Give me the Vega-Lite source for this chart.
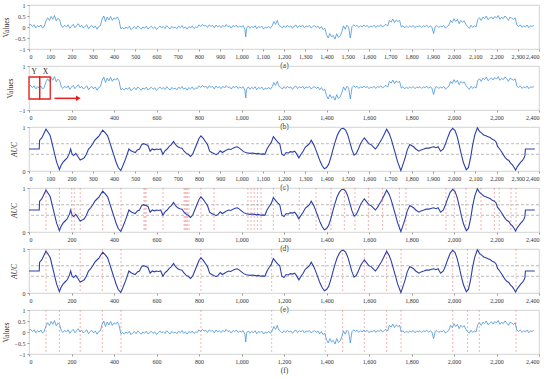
{
  "$schema": "https://vega.github.io/schema/vega-lite/v6.json",
  "padding": {"top": 1, "left": 1, "right": 5, "bottom": 3},
  "spacing": 17,
  "bounds": "flush",
  "config": {
    "view": {"stroke": "#c8c8c8", "strokeWidth": 0.8},
    "axis": {"labelFont": "Liberation Serif", "titleFont": "Liberation Serif", "labelFontSize": 6, "titleFontSize": 7.5, "titleFontWeight": "normal", "labelColor": "#333", "titleColor": "#333", "domain": false, "tickColor": "#999", "tickSize": 2, "grid": false, "labelPadding": 2, "titlePadding": 2, "labelOverlap": false},
    "axisY": {"titlePadding": 4}
  },
  "datasets": {
    "sig": [
      {"t":0,"v":0.08},{"t":8,"v":0.12},{"t":16,"v":0.02},{"t":24,"v":0.1},{"t":32,"v":-0.04},{"t":40,"v":0.06},{"t":48,"v":0.0},{"t":56,"v":0.09},{"t":64,"v":-0.05},{"t":72,"v":0.04},
      {"t":80,"v":0.28},{"t":88,"v":0.42},{"t":96,"v":0.3},{"t":104,"v":0.48},{"t":112,"v":0.35},{"t":120,"v":0.52},{"t":128,"v":0.28},{"t":136,"v":0.4},{"t":144,"v":0.34},
      {"t":152,"v":0.05},{"t":160,"v":-0.02},{"t":168,"v":0.08},{"t":176,"v":0.0},{"t":184,"v":0.1},{"t":192,"v":-0.06},{"t":200,"v":0.04},{"t":208,"v":0.12},{"t":216,"v":-0.03},{"t":224,"v":0.06},{"t":232,"v":0.15},{"t":240,"v":0.0},{"t":248,"v":0.08},{"t":256,"v":-0.05},{"t":264,"v":0.03},{"t":272,"v":0.1},{"t":280,"v":-0.08},{"t":288,"v":0.02},{"t":296,"v":0.07},{"t":304,"v":-0.04},{"t":312,"v":0.05},{"t":320,"v":-0.1},{"t":328,"v":0.02},{"t":336,"v":0.06},
      {"t":344,"v":0.35},{"t":352,"v":0.5},{"t":360,"v":0.25},{"t":368,"v":0.45},{"t":376,"v":0.32},{"t":384,"v":0.48},{"t":392,"v":0.3},{"t":400,"v":0.42},{"t":408,"v":0.36},{"t":416,"v":0.46},{"t":424,"v":0.3},
      {"t":432,"v":-0.08},{"t":440,"v":-0.02},{"t":448,"v":-0.1},{"t":456,"v":0.0},{"t":464,"v":-0.06},{"t":472,"v":0.03},{"t":480,"v":-0.12},{"t":488,"v":-0.04},{"t":496,"v":0.02},{"t":504,"v":-0.08},{"t":512,"v":0.05},{"t":520,"v":-0.03},{"t":528,"v":-0.1},{"t":536,"v":0.0},{"t":544,"v":-0.05},{"t":552,"v":0.04},{"t":560,"v":-0.09},{"t":568,"v":-0.02},{"t":576,"v":0.03},{"t":584,"v":-0.06},{"t":592,"v":0.01},{"t":600,"v":-0.11},{"t":608,"v":-0.03},{"t":616,"v":0.05},{"t":624,"v":-0.04},{"t":632,"v":0.02},{"t":640,"v":-0.07},{"t":648,"v":0.06},{"t":656,"v":-0.02},{"t":664,"v":-0.09},{"t":672,"v":0.03},{"t":680,"v":-0.05},{"t":688,"v":0.0},{"t":696,"v":-0.08},{"t":704,"v":0.04},{"t":712,"v":-0.03},{"t":720,"v":0.07},{"t":728,"v":-0.06},{"t":736,"v":0.01},{"t":744,"v":-0.1},{"t":752,"v":0.02},{"t":760,"v":-0.04},{"t":768,"v":0.05},{"t":776,"v":-0.07},{"t":784,"v":0.0},{"t":792,"v":-0.02},
      {"t":800,"v":0.1},{"t":808,"v":0.02},{"t":816,"v":0.12},{"t":824,"v":0.04},{"t":832,"v":0.08},{"t":840,"v":-0.02},{"t":848,"v":0.1},{"t":856,"v":0.03},{"t":864,"v":0.07},{"t":872,"v":-0.04},{"t":880,"v":0.09},{"t":888,"v":0.01},{"t":896,"v":0.06},{"t":904,"v":-0.03},{"t":912,"v":0.08},{"t":920,"v":0.0},{"t":928,"v":0.11},{"t":936,"v":0.02},{"t":944,"v":0.05},{"t":952,"v":-0.05},{"t":960,"v":0.07},{"t":968,"v":0.01},{"t":976,"v":0.09},{"t":984,"v":-0.02},{"t":992,"v":0.04},{"t":1000,"v":0.0},{"t":1008,"v":0.06},{"t":1016,"v":-0.1},{"t":1020,"v":-0.45},{"t":1024,"v":-0.05},{"t":1032,"v":0.05},{"t":1040,"v":-0.06},{"t":1048,"v":0.03},{"t":1056,"v":-0.03},{"t":1064,"v":0.06},{"t":1072,"v":-0.08},{"t":1080,"v":0.02},{"t":1088,"v":-0.02},{"t":1096,"v":0.04},{"t":1104,"v":-0.09},{"t":1112,"v":0.0},{"t":1120,"v":-0.05},{"t":1128,"v":0.03},{"t":1136,"v":-0.06},{"t":1144,"v":0.05},
      {"t":1152,"v":0.25},{"t":1160,"v":0.12},{"t":1168,"v":0.3},{"t":1176,"v":0.08},
      {"t":1184,"v":0.03},{"t":1192,"v":-0.05},{"t":1200,"v":0.06},{"t":1208,"v":-0.02},{"t":1216,"v":0.08},{"t":1224,"v":0.0},{"t":1232,"v":0.05},{"t":1240,"v":-0.06},{"t":1248,"v":0.04},{"t":1256,"v":0.09},{"t":1264,"v":-0.03},{"t":1272,"v":0.06},{"t":1280,"v":0.01},{"t":1288,"v":0.08},{"t":1296,"v":-0.04},{"t":1304,"v":0.05},{"t":1312,"v":0.02},{"t":1320,"v":0.07},{"t":1328,"v":-0.05},{"t":1336,"v":0.03},{"t":1344,"v":0.06},{"t":1352,"v":-0.02},{"t":1360,"v":0.04},{"t":1368,"v":-0.08},{"t":1376,"v":0.02},{"t":1384,"v":-0.12},{"t":1392,"v":-0.05},
      {"t":1400,"v":-0.35},{"t":1408,"v":-0.5},{"t":1416,"v":-0.3},{"t":1424,"v":-0.45},{"t":1432,"v":-0.38},{"t":1440,"v":-0.55},{"t":1448,"v":-0.3},{"t":1456,"v":-0.48},{"t":1464,"v":-0.4},{"t":1472,"v":-0.22},
      {"t":1480,"v":0.05},{"t":1488,"v":-0.1},{"t":1496,"v":0.08},{"t":1504,"v":0.0},{"t":1512,"v":-0.5},{"t":1520,"v":0.02},{"t":1528,"v":0.1},{"t":1536,"v":0.03},{"t":1544,"v":0.08},{"t":1552,"v":-0.02},{"t":1560,"v":0.06},{"t":1568,"v":0.0},{"t":1576,"v":0.09},{"t":1584,"v":0.02},{"t":1592,"v":0.07},{"t":1600,"v":-0.03},{"t":1608,"v":0.05},{"t":1616,"v":0.01},{"t":1624,"v":0.08},{"t":1632,"v":-0.02},{"t":1640,"v":0.06},{"t":1648,"v":0.03},{"t":1656,"v":0.1},{"t":1664,"v":0.0},{"t":1672,"v":0.07},{"t":1680,"v":0.12},{"t":1688,"v":0.04},
      {"t":1696,"v":0.3},{"t":1704,"v":0.22},{"t":1712,"v":0.36},{"t":1720,"v":0.2},{"t":1728,"v":0.32},{"t":1736,"v":0.25},{"t":1744,"v":0.3},
      {"t":1752,"v":0.0},{"t":1760,"v":0.06},{"t":1768,"v":-0.04},{"t":1776,"v":0.04},{"t":1784,"v":-0.02},{"t":1792,"v":0.05},{"t":1800,"v":0.0},{"t":1808,"v":0.07},{"t":1816,"v":-0.03},{"t":1824,"v":0.04},{"t":1832,"v":0.01},{"t":1840,"v":0.06},{"t":1848,"v":-0.02},{"t":1856,"v":0.05},{"t":1864,"v":0.02},{"t":1872,"v":0.08},{"t":1880,"v":-0.01},{"t":1888,"v":0.05},{"t":1896,"v":0.0},{"t":1904,"v":-0.3},{"t":1912,"v":0.03},{"t":1920,"v":0.06},{"t":1928,"v":-0.02},{"t":1936,"v":0.04},{"t":1944,"v":0.0},{"t":1952,"v":0.07},{"t":1960,"v":-0.05},{"t":1968,"v":0.02},{"t":1976,"v":0.08},
      {"t":1984,"v":0.3},{"t":1992,"v":0.2},{"t":2000,"v":0.38},{"t":2008,"v":0.25},{"t":2016,"v":0.35},{"t":2024,"v":0.15},{"t":2032,"v":0.3},{"t":2040,"v":0.22},{"t":2048,"v":0.28},{"t":2056,"v":0.12},
      {"t":2064,"v":0.02},{"t":2072,"v":-0.06},{"t":2080,"v":0.08},{"t":2088,"v":-0.02},{"t":2096,"v":0.05},{"t":2104,"v":0.0},
      {"t":2112,"v":0.35},{"t":2120,"v":0.42},{"t":2128,"v":0.3},{"t":2136,"v":0.45},{"t":2144,"v":0.38},{"t":2152,"v":0.5},{"t":2160,"v":0.33},{"t":2168,"v":0.4},{"t":2176,"v":0.46},{"t":2184,"v":0.36},{"t":2192,"v":0.48},{"t":2200,"v":0.4},{"t":2208,"v":0.52},{"t":2216,"v":0.35},{"t":2224,"v":0.44},{"t":2232,"v":0.38},{"t":2240,"v":0.5},{"t":2248,"v":0.42},{"t":2256,"v":0.3},{"t":2264,"v":0.45},{"t":2272,"v":0.4},{"t":2280,"v":0.35},{"t":2288,"v":0.42},
      {"t":2296,"v":0.08},{"t":2304,"v":0.02},{"t":2312,"v":0.1},{"t":2320,"v":-0.02},{"t":2328,"v":0.06},{"t":2336,"v":0.0},{"t":2344,"v":0.09},{"t":2352,"v":-0.03},{"t":2360,"v":0.05},{"t":2368,"v":0.03},{"t":2376,"v":0.07}
    ],
    "auc": [
      {"t":0,"a":0.5},{"t":48,"a":0.5},{"t":50,"a":0.7},{"t":60,"a":0.75},{"t":70,"a":0.85},{"t":80,"a":0.95},{"t":90,"a":0.88},{"t":100,"a":0.8},{"t":110,"a":0.6},{"t":120,"a":0.4},{"t":130,"a":0.2},{"t":138,"a":0.1},{"t":143,"a":0.03},{"t":150,"a":0.12},{"t":160,"a":0.2},{"t":170,"a":0.25},{"t":180,"a":0.3},{"t":190,"a":0.4},{"t":196,"a":0.5},{"t":203,"a":0.38},{"t":210,"a":0.35},{"t":220,"a":0.4},{"t":230,"a":0.33},{"t":241,"a":0.25},{"t":250,"a":0.27},{"t":260,"a":0.3},{"t":270,"a":0.38},{"t":280,"a":0.5},{"t":290,"a":0.55},{"t":300,"a":0.62},{"t":310,"a":0.7},{"t":320,"a":0.75},{"t":330,"a":0.8},{"t":340,"a":0.88},{"t":347,"a":0.93},{"t":360,"a":0.86},{"t":370,"a":0.8},{"t":380,"a":0.65},{"t":390,"a":0.5},{"t":400,"a":0.35},{"t":410,"a":0.2},{"t":420,"a":0.08},{"t":432,"a":0.01},{"t":440,"a":0.1},{"t":450,"a":0.22},{"t":460,"a":0.35},{"t":470,"a":0.5},{"t":480,"a":0.46},{"t":490,"a":0.44},{"t":500,"a":0.42},{"t":510,"a":0.48},{"t":520,"a":0.5},{"t":530,"a":0.6},{"t":540,"a":0.62},{"t":550,"a":0.6},{"t":560,"a":0.58},{"t":570,"a":0.45},{"t":580,"a":0.5},{"t":590,"a":0.48},{"t":600,"a":0.5},{"t":610,"a":0.49},{"t":620,"a":0.5},{"t":630,"a":0.38},{"t":640,"a":0.46},{"t":650,"a":0.5},{"t":660,"a":0.56},{"t":670,"a":0.6},{"t":680,"a":0.67},{"t":690,"a":0.6},{"t":700,"a":0.55},{"t":710,"a":0.53},{"t":720,"a":0.52},{"t":730,"a":0.45},{"t":740,"a":0.4},{"t":750,"a":0.38},{"t":760,"a":0.33},{"t":770,"a":0.38},{"t":780,"a":0.5},{"t":790,"a":0.62},{"t":800,"a":0.74},{"t":809,"a":0.8},{"t":820,"a":0.74},{"t":830,"a":0.67},{"t":840,"a":0.6},{"t":850,"a":0.45},{"t":860,"a":0.42},{"t":870,"a":0.4},{"t":880,"a":0.37},{"t":890,"a":0.4},{"t":900,"a":0.46},{"t":910,"a":0.42},{"t":920,"a":0.45},{"t":930,"a":0.48},{"t":940,"a":0.5},{"t":950,"a":0.49},{"t":960,"a":0.52},{"t":970,"a":0.54},{"t":980,"a":0.55},{"t":990,"a":0.52},{"t":1000,"a":0.48},{"t":1010,"a":0.44},{"t":1020,"a":0.42},{"t":1030,"a":0.41},{"t":1040,"a":0.4},{"t":1050,"a":0.41},{"t":1060,"a":0.4},{"t":1070,"a":0.39},{"t":1080,"a":0.4},{"t":1090,"a":0.38},{"t":1100,"a":0.39},{"t":1110,"a":0.38},{"t":1120,"a":0.5},{"t":1130,"a":0.58},{"t":1140,"a":0.65},{"t":1150,"a":0.78},{"t":1160,"a":0.72},{"t":1170,"a":0.66},{"t":1180,"a":0.62},{"t":1190,"a":0.38},{"t":1200,"a":0.35},{"t":1210,"a":0.42},{"t":1220,"a":0.41},{"t":1230,"a":0.44},{"t":1240,"a":0.43},{"t":1250,"a":0.45},{"t":1258,"a":0.4},{"t":1270,"a":0.3},{"t":1280,"a":0.38},{"t":1290,"a":0.45},{"t":1300,"a":0.54},{"t":1310,"a":0.58},{"t":1320,"a":0.62},{"t":1328,"a":0.7},{"t":1340,"a":0.6},{"t":1350,"a":0.48},{"t":1360,"a":0.35},{"t":1370,"a":0.22},{"t":1380,"a":0.12},{"t":1390,"a":0.05},{"t":1400,"a":0.08},{"t":1410,"a":0.15},{"t":1420,"a":0.3},{"t":1430,"a":0.48},{"t":1440,"a":0.65},{"t":1450,"a":0.8},{"t":1460,"a":0.9},{"t":1470,"a":0.96},{"t":1480,"a":0.97},{"t":1490,"a":0.93},{"t":1500,"a":0.82},{"t":1510,"a":0.65},{"t":1520,"a":0.48},{"t":1530,"a":0.36},{"t":1540,"a":0.4},{"t":1550,"a":0.5},{"t":1560,"a":0.62},{"t":1570,"a":0.7},{"t":1578,"a":0.75},{"t":1590,"a":0.68},{"t":1600,"a":0.62},{"t":1610,"a":0.6},{"t":1620,"a":0.55},{"t":1630,"a":0.5},{"t":1640,"a":0.56},{"t":1650,"a":0.64},{"t":1660,"a":0.72},{"t":1670,"a":0.82},{"t":1683,"a":0.95},{"t":1695,"a":0.85},{"t":1705,"a":0.72},{"t":1715,"a":0.55},{"t":1725,"a":0.38},{"t":1735,"a":0.2},{"t":1750,"a":0.01},{"t":1760,"a":0.15},{"t":1770,"a":0.3},{"t":1780,"a":0.48},{"t":1792,"a":0.6},{"t":1800,"a":0.58},{"t":1810,"a":0.55},{"t":1820,"a":0.5},{"t":1835,"a":0.45},{"t":1845,"a":0.48},{"t":1858,"a":0.5},{"t":1870,"a":0.52},{"t":1882,"a":0.52},{"t":1895,"a":0.54},{"t":1905,"a":0.55},{"t":1915,"a":0.53},{"t":1925,"a":0.55},{"t":1937,"a":0.45},{"t":1950,"a":0.5},{"t":1960,"a":0.62},{"t":1972,"a":0.78},{"t":1982,"a":0.9},{"t":1994,"a":0.97},{"t":2005,"a":0.92},{"t":2015,"a":0.78},{"t":2025,"a":0.58},{"t":2035,"a":0.36},{"t":2045,"a":0.18},{"t":2058,"a":0.03},{"t":2068,"a":0.08},{"t":2078,"a":0.3},{"t":2088,"a":0.6},{"t":2098,"a":0.82},{"t":2110,"a":0.98},{"t":2120,"a":0.9},{"t":2130,"a":0.86},{"t":2140,"a":0.82},{"t":2150,"a":0.8},{"t":2160,"a":0.78},{"t":2170,"a":0.76},{"t":2180,"a":0.72},{"t":2190,"a":0.7},{"t":2198,"a":0.66},{"t":2205,"a":0.56},{"t":2215,"a":0.5},{"t":2226,"a":0.42},{"t":2235,"a":0.35},{"t":2242,"a":0.3},{"t":2250,"a":0.26},{"t":2258,"a":0.24},{"t":2266,"a":0.18},{"t":2275,"a":0.14},{"t":2283,"a":0.08},{"t":2290,"a":0.02},{"t":2298,"a":0.1},{"t":2306,"a":0.15},{"t":2314,"a":0.2},{"t":2322,"a":0.24},{"t":2330,"a":0.3},{"t":2334,"a":0.36},{"t":2336,"a":0.5},{"t":2380,"a":0.5}
    ],
    "thr": [{"h":0.62},{"h":0.38}],
    "dlines": [{"c":80},{"c":143},{"c":201},{"c":213},{"c":241},{"c":347},{"c":433},{"c":541},{"c":546},{"c":551},{"c":631},{"c":730},{"c":735},{"c":740},{"c":745},{"c":753},{"c":809},{"c":871},{"c":1030},{"c":1045},{"c":1060},{"c":1075},{"c":1092},{"c":1150},{"c":1272},{"c":1351},{"c":1421},{"c":1484},{"c":1534},{"c":1597},{"c":1664},{"c":1743},{"c":1774},{"c":1962},{"c":2001},{"c":2056},{"c":2127},{"c":2190},{"c":2213},{"c":2268},{"c":2292}],
    "elines": [{"c":80},{"c":143},{"c":241},{"c":345},{"c":433},{"c":809},{"c":1142},{"c":1394},{"c":1476},{"c":1578},{"c":1683},{"c":1751},{"c":1994},{"c":2064},{"c":2119},{"c":2292}]
  },
  "vconcat": [
    {
      "width": 510, "height": 44,
      "data": {"name": "sig"},
      "mark": {"type": "line", "color": "#3d8fd6", "strokeWidth": 0.75},
      "encoding": {
        "x": {"field": "t", "type": "quantitative", "scale": {"domain": [0, 2400], "nice": false}, "axis": {"title": "(a)", "format": ",d", "values": [0,100,200,300,400,500,600,700,800,900,1000,1100,1200,1300,1400,1500,1600,1700,1800,1900,2000,2100,2200,2300,2400]}},
        "y": {"field": "v", "type": "quantitative", "scale": {"domain": [-1, 1]}, "axis": {"title": "Values", "format": "~g", "values": [-1,-0.5,0,0.5,1]}}
      }
    },
    {
      "width": 510, "height": 44,
      "layer": [
        {
          "data": {"name": "sig"},
          "mark": {"type": "line", "color": "#3d8fd6", "strokeWidth": 0.75},
          "encoding": {
            "x": {"field": "t", "type": "quantitative", "scale": {"domain": [0, 2400], "nice": false}, "axis": {"title": "(b)", "format": ",d", "values": [0,100,200,300,400,500,600,700,800,900,1000,1100,1200,1300,1400,1500,1600,1700,1800,1900,2000,2100,2200,2300,2400]}},
            "y": {"field": "v", "type": "quantitative", "scale": {"domain": [-1, 1]}, "axis": {"title": "Values", "format": "~g", "values": [-1,-0.5,0,0.5,1]}}
          }
        },
        {
          "data": {"values": [{"x1": 0, "x2": 50, "y1": -0.5, "y2": 0.5}, {"x1": 50, "x2": 100, "y1": -0.5, "y2": 0.5}]},
          "mark": {"type": "rect", "fill": null, "fillOpacity": 0, "stroke": "#e3211c", "strokeWidth": 1.3},
          "encoding": {"x": {"field": "x1", "type": "quantitative"}, "x2": {"field": "x2"}, "y": {"field": "y1", "type": "quantitative"}, "y2": {"field": "y2"}}
        },
        {
          "data": {"values": [{"x": 25, "y": 0.75, "s": "Y"}, {"x": 77, "y": 0.75, "s": "X"}]},
          "mark": {"type": "text", "font": "Liberation Serif", "fontSize": 7.5, "color": "#222"},
          "encoding": {"x": {"field": "x", "type": "quantitative"}, "y": {"field": "y", "type": "quantitative"}, "text": {"field": "s"}}
        },
        {
          "data": {"values": [{"x1": 120, "x2": 230, "y": -0.47}]},
          "mark": {"type": "rule", "color": "#e3211c", "strokeWidth": 1.5},
          "encoding": {"x": {"field": "x1", "type": "quantitative"}, "x2": {"field": "x2"}, "y": {"field": "y", "type": "quantitative"}}
        },
        {
          "data": {"values": [{"x": 232, "y": -0.47}]},
          "mark": {"type": "point", "shape": "triangle-right", "filled": true, "color": "#e3211c", "size": 30, "opacity": 1},
          "encoding": {"x": {"field": "x", "type": "quantitative"}, "y": {"field": "y", "type": "quantitative"}}
        }
      ]
    },
    {
      "width": 510, "height": 44,
      "layer": [
        {
          "data": {"name": "thr"},
          "mark": {"type": "rule", "color": "#aaaaaa", "strokeWidth": 0.8, "strokeDash": [3, 2]},
          "encoding": {"y": {"field": "h", "type": "quantitative"}}
        },
        {
          "data": {"name": "auc"},
          "mark": {"type": "line", "color": "#2c40a8", "strokeWidth": 1.1},
          "encoding": {
            "x": {"field": "t", "type": "quantitative", "scale": {"domain": [0, 2400], "nice": false}, "axis": {"title": "(c)", "format": ",d", "values": [0,100,200,300,400,500,600,700,800,900,1000,1100,1200,1300,1400,1500,1600,1700,1800,1900,2000,2100,2200,2300,2400]}},
            "y": {"field": "a", "type": "quantitative", "scale": {"domain": [0, 1]}, "axis": {"title": "AUC", "titleFontStyle": "italic", "format": "~g", "values": [0,0.2,0.4,0.6,0.8,1]}}
          }
        }
      ]
    },
    {
      "width": 510, "height": 44,
      "layer": [
        {
          "data": {"name": "dlines"},
          "mark": {"type": "rule", "color": "#f08080", "strokeWidth": 0.6, "strokeDash": [2, 2]},
          "encoding": {"x": {"field": "c", "type": "quantitative"}}
        },
        {
          "data": {"name": "thr"},
          "mark": {"type": "rule", "color": "#aaaaaa", "strokeWidth": 0.8, "strokeDash": [3, 2]},
          "encoding": {"y": {"field": "h", "type": "quantitative"}}
        },
        {
          "data": {"name": "auc"},
          "mark": {"type": "line", "color": "#2c40a8", "strokeWidth": 1.1},
          "encoding": {
            "x": {"field": "t", "type": "quantitative", "scale": {"domain": [0, 2400], "nice": false}, "axis": {"title": "(d)", "format": ",d", "values": [0,100,200,300,400,500,600,700,800,900,1000,1100,1200,1300,1400,1500,1600,1700,1800,1900,2000,2100,2200,2300,2400]}},
            "y": {"field": "a", "type": "quantitative", "scale": {"domain": [0, 1]}, "axis": {"title": "AUC", "titleFontStyle": "italic", "format": "~g", "values": [0,0.2,0.4,0.6,0.8,1]}}
          }
        }
      ]
    },
    {
      "width": 510, "height": 44,
      "layer": [
        {
          "data": {"name": "elines"},
          "mark": {"type": "rule", "color": "#f08080", "strokeWidth": 0.6, "strokeDash": [2, 2]},
          "encoding": {"x": {"field": "c", "type": "quantitative"}}
        },
        {
          "data": {"name": "thr"},
          "mark": {"type": "rule", "color": "#aaaaaa", "strokeWidth": 0.8, "strokeDash": [3, 2]},
          "encoding": {"y": {"field": "h", "type": "quantitative"}}
        },
        {
          "data": {"name": "auc"},
          "mark": {"type": "line", "color": "#2c40a8", "strokeWidth": 1.1},
          "encoding": {
            "x": {"field": "t", "type": "quantitative", "scale": {"domain": [0, 2400], "nice": false}, "axis": {"title": "(e)", "format": ",d", "values": [0,100,200,300,400,500,600,700,800,900,1000,1100,1200,1300,1400,1500,1600,1700,1800,1900,2000,2100,2200,2300,2400]}},
            "y": {"field": "a", "type": "quantitative", "scale": {"domain": [0, 1]}, "axis": {"title": "AUC", "titleFontStyle": "italic", "format": "~g", "values": [0,0.2,0.4,0.6,0.8,1]}}
          }
        }
      ]
    },
    {
      "width": 510, "height": 44,
      "layer": [
        {
          "data": {"name": "elines"},
          "mark": {"type": "rule", "color": "#f08080", "strokeWidth": 0.6, "strokeDash": [2, 2]},
          "encoding": {"x": {"field": "c", "type": "quantitative"}}
        },
        {
          "data": {"name": "sig"},
          "mark": {"type": "line", "color": "#3d8fd6", "strokeWidth": 0.75},
          "encoding": {
            "x": {"field": "t", "type": "quantitative", "scale": {"domain": [0, 2400], "nice": false}, "axis": {"title": "(f)", "format": ",d", "values": [0,100,200,300,400,500,600,700,800,900,1000,1100,1200,1300,1400,1500,1600,1700,1800,1900,2000,2100,2200,2300,2400]}},
            "y": {"field": "v", "type": "quantitative", "scale": {"domain": [-1, 1]}, "axis": {"title": "Values", "format": "~g", "values": [-1,-0.5,0,0.5,1]}}
          }
        }
      ]
    }
  ]
}
